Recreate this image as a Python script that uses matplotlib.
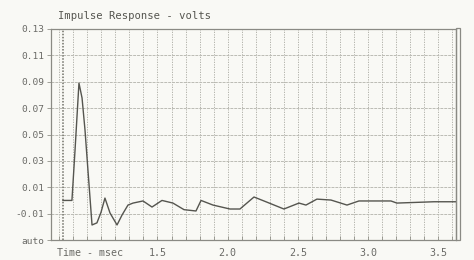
import matplotlib
matplotlib.use("Agg")
import matplotlib.pyplot as plt
from matplotlib.patches import Rectangle

# impulse response
time_ms = [0.827, 0.891, 0.913, 0.941, 0.963, 0.984, 1.005, 1.034, 1.069, 1.098,
           1.126, 1.162, 1.212, 1.248, 1.290, 1.326, 1.397, 1.461, 1.532, 1.610,
           1.689, 1.774, 1.810, 1.895, 2.016, 2.087, 2.187, 2.272, 2.400, 2.507,
           2.557, 2.635, 2.735, 2.849, 2.934, 3.162, 3.204, 3.468, 3.625]
volts = [0.0, 0.0, 0.038, 0.089, 0.0777, 0.0534, 0.023, -0.0186, -0.017, -0.009,
         0.0018, -0.0095, -0.0186, -0.011, -0.0035, -0.002, -0.0004, -0.005, 0.0, -0.002,
         -0.007, -0.008, 0.0, -0.0035, -0.0065, -0.0065, 0.0026, -0.001, -0.0065, -0.002,
         -0.0035, 0.001, 0.0003, -0.0035, -0.0004, -0.0004, -0.002, -0.001, -0.001]

x_ticks = [1.5, 2.0, 2.5, 3.0, 3.5]
x_labels = ["1.5", "2.0", "2.5", "3.0", "3.5"]
y_ticks = [-0.03, -0.01, 0.01, 0.03, 0.05, 0.07, 0.09, 0.11, 0.13]
y_labels = ["auto", "-0.01", "0.01", "0.03", "0.05", "0.07", "0.09", "0.11", "0.13"]
marker_t = 0.827

W, H = 474, 260
bg = "#f9f9f5"
ink = "#6a6a66"
mono = "DejaVu Sans Mono"

fig = plt.figure(figsize=(W / 100, H / 100), dpi=100, facecolor=bg)
ax = fig.add_axes([51 / W, 1 - 240 / H, (456 - 51) / W, (240 - 29) / H], facecolor=bg)

ax.set_xlim(0.742, 3.625)
ax.set_ylim(-0.03, 0.13)

# grid: vertical every 0.1 ms, horizontal at labels
t = 0.8
while t < 3.62:
    ax.axvline(t, color="#a8a8a0", lw=0.6, ls=(0, (1.5, 1.5)), zorder=1)
    t = round(t + 0.1, 2)
for yv in y_ticks[1:-1]:
    ax.axhline(yv, color="#bcbcb4", lw=0.7, ls=(0, (3, 1)), zorder=1)
ax.axvline(marker_t, color="#707068", lw=1.1, ls=(0, (1, 1)), zorder=1)

ax.plot(time_ms, volts, color="#55554f", lw=1.0, zorder=3)

ax.set_yticks(y_ticks)
ax.set_yticklabels(y_labels, family=mono, fontsize=6.8, color=ink)
ax.set_xticks([round(0.8 + 0.1 * i, 1) for i in range(29)])
ax.set_xticklabels([])
ax.tick_params(axis="x", direction="in", length=3, width=0.6, color="#909088")
ax.tick_params(axis="y", direction="out", length=3, width=0.6, color="#909088", pad=2)

for s in ax.spines.values():
    s.set_color("#8a8a84")
    s.set_linewidth(0.9)

# x labels drawn underneath like the original
for xv, lab in zip(x_ticks, x_labels):
    xf = ax.transData.transform((xv, 0))[0] / W
    fig.text(xf, 1 - 253 / H, lab, family=mono, fontsize=7.2, color=ink, ha="center", va="center")
fig.text(57 / W, 1 - 253 / H, "Time - msec", family=mono, fontsize=7.2, color=ink, ha="left", va="center")
fig.text(58 / W, 1 - 16 / H, "Impulse Response - volts", family=mono, fontsize=7.6,
         color="#55554f", ha="left", va="center")

# narrow box at right edge
fig.patches.append(Rectangle((456 / W, 1 - 240 / H), 4 / W, 212 / H, transform=fig.transFigure,
                             fill=False, edgecolor="#8a8a84", lw=0.9))

fig.savefig("out.png", dpi=100, facecolor=bg)
